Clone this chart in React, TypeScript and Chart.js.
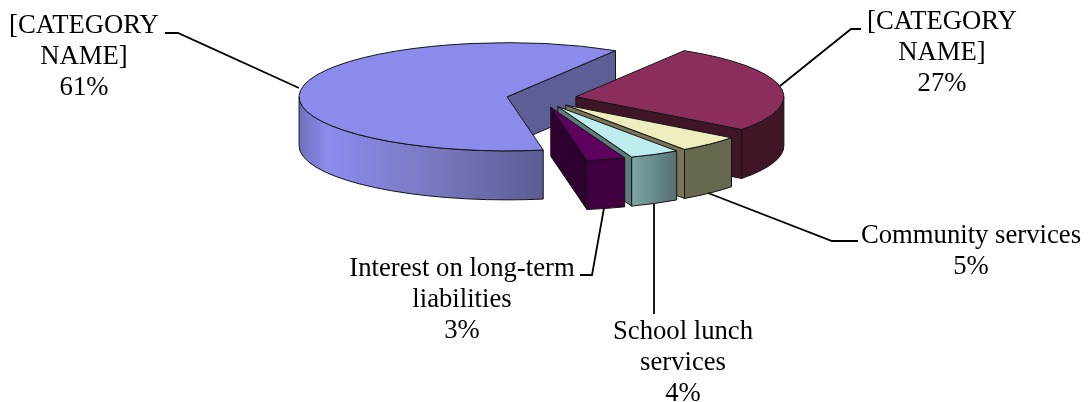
import React, { useEffect, useRef } from "react";
import { Chart, registerables } from "chart.js";

Chart.register(...registerables);

const categories = ["[CATEGORY NAME]", "[CATEGORY NAME]", "Community services", "School lunch services", "Interest on long-term liabilities"];
const shares = [61.5, 26.6, 5, 3.9, 3];
const topColors = ["#8B8BEC", "#8C2E5C", "#EDEDBE", "#BDEDEE", "#5F005F"];
const endWallColors = ["#5E5E96", "#3F1528", "#7A7558", "#5F7C7C", "#2E002F"];
const outerStops = [
  ["#7070BE", "#8C8CEE", "#7878C0", "#5C5C94"],
  ["#3F1528", "#3F1528", "#3F1528", "#3F1528"],
  ["#68684F", "#68684F", "#68684F", "#68684F"],
  ["#7FA5A5", "#7A9F9F", "#668888", "#54706F"],
  ["#40003F", "#40003F", "#40003F", "#40003F"],
];
const labelLines = [
  ["[CATEGORY", "NAME]", "61%"],
  ["[CATEGORY", "NAME]", "27%"],
  ["Community services", "5%"],
  ["School lunch", "services", "4%"],
  ["Interest on long-term", "liabilities", "3%"],
];
const labelCenters = [84, 942, 971, 683, 462];
const labelBaselines = [33, 29, 243, 339, 276];
const leaders = [
  [[165, 33], [178, 33], [299, 88]],
  [[861, 29], [851, 29], [780, 86]],
  [[858, 241], [832, 241], [708, 193]],
  [[654, 314], [654, 204]],
  [[580, 275], [592, 275], [604, 208]],
];

const SQUASH = 0.26;
const DEPTH = 49;
const EXPLODE = 35;
const RADIUS = 208;
const LINE_STEP = 30.8;
const OUTLINE = "#141418";

const pie3d = {
  id: "pie3d",
  beforeDatasetDraw(chart: any) {
    const ctx = chart.ctx;
    const arcs = chart.getDatasetMeta(0).data;
    arcs.forEach((arc: any, i: number) => {
      const { startAngle: a0, endAngle: a1, outerRadius: r } = arc;
      const mid = (a0 + a1) / 2;
      const rx = r;
      const ry = r * SQUASH;
      const cx = arc.x + Math.cos(mid) * EXPLODE;
      const cy = arc.y + Math.sin(mid) * EXPLODE * SQUASH;
      const pt = (a: number) => [cx + Math.cos(a) * rx, cy + Math.sin(a) * ry];

      // the cut face on the clockwise side looks towards the viewer
      const [wx, wy] = pt(a1);
      ctx.beginPath();
      ctx.moveTo(cx, cy);
      ctx.lineTo(wx, wy);
      ctx.lineTo(wx, wy + DEPTH);
      ctx.lineTo(cx, cy + DEPTH);
      ctx.closePath();
      ctx.fillStyle = endWallColors[i];
      ctx.fill();
      ctx.strokeStyle = OUTLINE;
      ctx.lineWidth = 1;
      ctx.stroke();

      // outer rim, front half only
      const twoPi = Math.PI * 2;
      for (let k = -1; k <= 1; k++) {
        const s = Math.max(a0, k * twoPi);
        const e = Math.min(a1, k * twoPi + Math.PI);
        if (e <= s) continue;
        const grad = ctx.createLinearGradient(pt(e)[0], 0, pt(s)[0], 0);
        const stops = outerStops[i];
        [0, 0.12, 0.55, 1].forEach((g, n) => grad.addColorStop(g, stops[n]));
        ctx.beginPath();
        ctx.ellipse(cx, cy, rx, ry, 0, s, e);
        ctx.lineTo(pt(e)[0], pt(e)[1] + DEPTH);
        ctx.ellipse(cx, cy + DEPTH, rx, ry, 0, e, s, true);
        ctx.closePath();
        ctx.fillStyle = grad;
        ctx.fill();
        ctx.stroke();
      }

      // top face: the library's own arc, squashed and moved out
      ctx.save();
      ctx.translate(cx, cy);
      ctx.scale(1, SQUASH);
      ctx.translate(-arc.x, -arc.y);
      arc.draw(ctx);
      ctx.restore();
      ctx.beginPath();
      ctx.moveTo(cx, cy);
      ctx.ellipse(cx, cy, rx, ry, 0, a0, a1);
      ctx.closePath();
      ctx.strokeStyle = OUTLINE;
      ctx.lineWidth = 1;
      ctx.stroke();
    });
    return false;
  },
  afterDatasetsDraw(chart: any) {
    const ctx = chart.ctx;
    ctx.save();
    ctx.strokeStyle = "#000";
    ctx.lineWidth = 1.8;
    leaders.forEach((pts) => {
      ctx.beginPath();
      pts.forEach(([x, y], n) => (n ? ctx.lineTo(x, y) : ctx.moveTo(x, y)));
      ctx.stroke();
    });
    ctx.fillStyle = "#000";
    ctx.font = '26.7px "Liberation Serif"';
    ctx.textAlign = "center";
    ctx.textBaseline = "alphabetic";
    labelLines.forEach((lines, i) => {
      lines.forEach((t, n) => ctx.fillText(t, labelCenters[i], labelBaselines[i] + n * LINE_STEP));
    });
    ctx.restore();
  },
};

export default function App() {
  const ref = useRef<HTMLCanvasElement>(null);
  useEffect(() => {
    const chart = new Chart(ref.current!, {
      type: "pie",
      data: {
        labels: categories,
        datasets: [{ data: shares, backgroundColor: topColors, borderWidth: 0 } as any],
      },
      options: {
        responsive: false,
        animation: false,
        rotation: 170,
        radius: RADIUS,
        layout: { padding: { right: 6, bottom: 205 } },
        plugins: { legend: { display: false }, tooltip: { enabled: false } },
      } as any,
      plugins: [pie3d],
    });
    return () => chart.destroy();
  }, []);
  return (
    <div style={{ position: "absolute", left: 0, top: 0, width: 1089, height: 402, background: "#fff" }}>
      <canvas ref={ref} width={1089} height={402} style={{ display: "block" }} />
    </div>
  );
}
